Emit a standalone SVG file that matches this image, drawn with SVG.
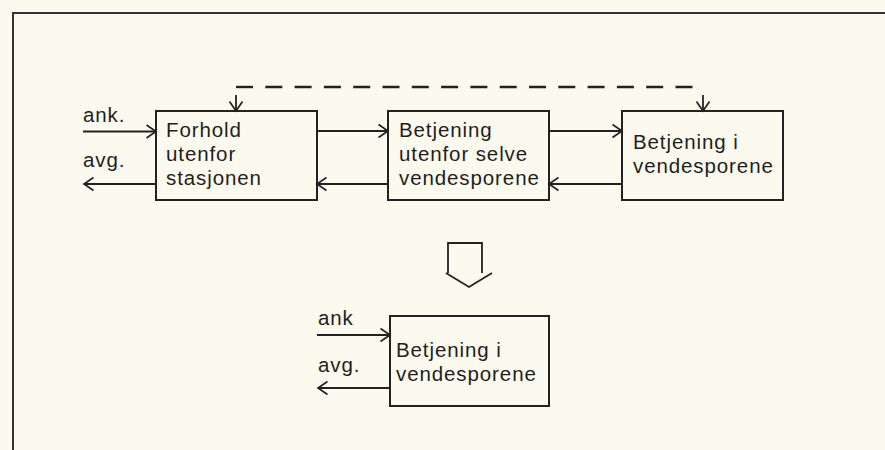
<svg xmlns="http://www.w3.org/2000/svg" width="885" height="450" viewBox="0 0 885 450">
  <defs>
    <marker id="arr" viewBox="-11 -8 13 16" refX="0" refY="0" markerWidth="13" markerHeight="16" markerUnits="userSpaceOnUse" orient="auto">
      <path d="M-9.5,-6.5 L0,0 L-9.5,6.5" fill="none" stroke="#222" stroke-width="1.7"/>
    </marker>
    <style>
      .box { fill: none; stroke: #222; stroke-width: 2; }
      .ln { fill: none; stroke: #222; stroke-width: 1.8; }
      .dash { fill: none; stroke: #222; stroke-width: 2.4; stroke-dasharray: 17 12.3; }
      text { font-family: "Liberation Sans", Arial, sans-serif; font-size: 20.5px; fill: #1e1e1e; letter-spacing: 0.9px; }
    </style>
  </defs>
  <rect x="0" y="0" width="885" height="450" fill="#fcfaee"/>
  <path d="M13,452 L13,13 L887,13" fill="none" stroke="#333" stroke-width="2"/>

  <g id="n1">
    <rect class="box" x="156" y="111" width="161" height="89"/>
    <text x="166" y="137">Forhold</text>
    <text x="166" y="161">utenfor</text>
    <text x="166" y="185">stasjonen</text>
  </g>
  <g id="n2">
    <rect class="box" x="388" y="111" width="161" height="89"/>
    <text x="399" y="137">Betjening</text>
    <text x="399" y="161">utenfor selve</text>
    <text x="399" y="185">vendesporene</text>
  </g>
  <g id="n3">
    <rect class="box" x="622" y="111" width="161" height="89"/>
    <text x="633" y="149">Betjening i</text>
    <text x="633" y="173">vendesporene</text>
  </g>
  <g id="n4">
    <rect class="box" x="390" y="316" width="159" height="90"/>
    <text x="396" y="357">Betjening i</text>
    <text x="396" y="381">vendesporene</text>
  </g>
  <g id="labels">
    <text x="83" y="122">ank.</text>
    <text x="83" y="167">avg.</text>
    <text x="318" y="325">ank</text>
    <text x="318" y="372">avg.</text>
  </g>
  <g id="transform-arrow">
    <path class="ln" d="M448,273 L448,243 L482,243 L482,273"/>
    <path class="ln" d="M446,273 L469,287 L492,273"/>
  </g>

  <g id="connectors">
    <line class="ln" x1="83" y1="131.5" x2="156" y2="131.5" marker-end="url(#arr)"/>
    <line class="ln" x1="156" y1="184" x2="84" y2="184" marker-end="url(#arr)"/>
    <line class="ln" x1="317" y1="131" x2="388" y2="131" marker-end="url(#arr)"/>
    <line class="ln" x1="388" y1="184" x2="317" y2="184" marker-end="url(#arr)"/>
    <line class="ln" x1="549" y1="131" x2="622" y2="131" marker-end="url(#arr)"/>
    <line class="ln" x1="622" y1="184" x2="549" y2="184" marker-end="url(#arr)"/>
    <line class="dash" x1="236" y1="87" x2="703" y2="87"/>
    <line class="ln" x1="236" y1="95" x2="236" y2="111" marker-end="url(#arr)"/>
    <line class="ln" x1="703" y1="95" x2="703" y2="111" marker-end="url(#arr)"/>
    <line class="ln" x1="317" y1="335" x2="390" y2="335" marker-end="url(#arr)"/>
    <line class="ln" x1="390" y1="388" x2="318" y2="388" marker-end="url(#arr)"/>
  </g>
</svg>
